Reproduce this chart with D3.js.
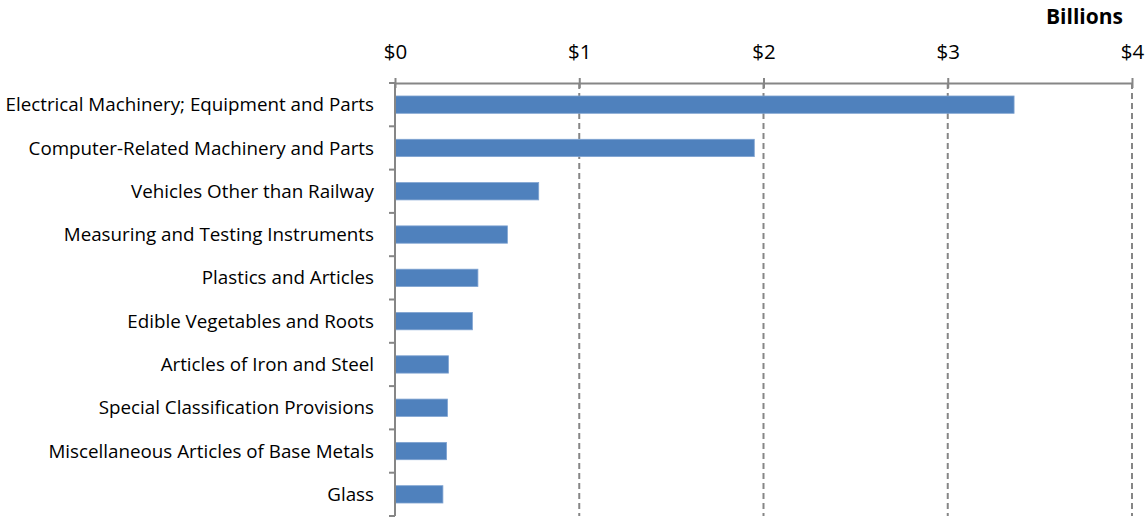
<!DOCTYPE html>
<html>
<head>
<meta charset="utf-8">
<script src="https://cdn.jsdelivr.net/npm/d3@7"></script>
<style>
  html, body { margin: 0; padding: 0; background: #fff; }
  svg { display: block; }
  text { font-family: "Open Sans", "Noto Sans", sans-serif; fill: #000; }
</style>
</head>
<body>
<svg id="chart" width="1147" height="519"></svg>
<script>
// Top export categories (values in billions of US dollars)
const categories = [
  "Electrical Machinery; Equipment and Parts",
  "Computer-Related Machinery and Parts",
  "Vehicles Other than Railway",
  "Measuring and Testing Instruments",
  "Plastics and Articles",
  "Edible Vegetables and Roots",
  "Articles of Iron and Steel",
  "Special Classification Provisions",
  "Miscellaneous Articles of Base Metals",
  "Glass"
];
const values = [3.36, 1.95, 0.78, 0.61, 0.45, 0.42, 0.29, 0.285, 0.28, 0.26];
const tickValues = [0, 1, 2, 3, 4];
const tickLabels = ["$0", "$1", "$2", "$3", "$4"];
const unitLabel = "Billions";

const svg = d3.select("#chart");
const plotLeft = 395, plotRight = 1132, plotTop = 83, plotBottom = 516;
const axisColor = "#868686";
const fontFamily = "'Open Sans', 'Noto Sans', sans-serif";

const x = d3.scaleLinear().domain([0, 4]).range([plotLeft, plotRight]);
const y = d3.scaleBand().domain(categories).range([plotTop, plotBottom]).paddingInner(0.6).paddingOuter(0.3);

// dashed vertical gridlines
svg.append("g")
  .selectAll("line")
  .data(tickValues.slice(1))
  .join("line")
  .attr("x1", d => x(d)).attr("x2", d => x(d))
  .attr("y1", plotTop).attr("y2", plotBottom)
  .attr("stroke", axisColor)
  .attr("stroke-width", 2)
  .attr("stroke-dasharray", "6,4");

// bars
svg.append("g")
  .selectAll("rect")
  .data(categories)
  .join("rect")
  .attr("x", x(0))
  .attr("y", d => y(d))
  .attr("width", (d, i) => x(values[i]) - x(0))
  .attr("height", y.bandwidth())
  .attr("fill", "#4F81BD")
  .attr("stroke", "#7FA3D1")
  .attr("stroke-width", 0.8);

// top value axis
const xAxis = d3.axisTop(x)
  .tickValues(tickValues)
  .tickFormat((d, i) => tickLabels[i])
  .tickSizeInner(5)
  .tickSizeOuter(0)
  .tickPadding(19);
const gx = svg.append("g").attr("transform", `translate(0,${plotTop})`).call(xAxis);
gx.select(".domain").attr("stroke", axisColor).attr("stroke-width", 2);
gx.selectAll(".tick line")
  .attr("stroke", axisColor).attr("stroke-width", 2)
  .attr("y1", 5).attr("y2", -5);
gx.selectAll(".tick text")
  .attr("font-size", 20.5)
  .attr("font-family", fontFamily)
  .attr("fill", "#000");

// left category axis: separators between bands
const yEdges = categories.map(c => y(c) - y.step() * y.paddingOuter()).concat([plotBottom]);
svg.append("line")
  .attr("x1", plotLeft).attr("x2", plotLeft)
  .attr("y1", plotTop).attr("y2", plotBottom)
  .attr("stroke", axisColor).attr("stroke-width", 2);
svg.append("g")
  .selectAll("line")
  .data(yEdges)
  .join("line")
  .attr("x1", plotLeft - 6).attr("x2", plotLeft)
  .attr("y1", d => d).attr("y2", d => d)
  .attr("stroke", axisColor).attr("stroke-width", 2);

// category labels
svg.append("g")
  .selectAll("text")
  .data(categories)
  .join("text")
  .attr("x", plotLeft - 21)
  .attr("y", d => y(d) + y.bandwidth() / 2)
  .attr("dy", "0.35em")
  .attr("text-anchor", "end")
  .attr("font-size", 18.8)
  .text(d => d);

// unit label
svg.append("text")
  .attr("x", 1123)
  .attr("y", 24)
  .attr("text-anchor", "end")
  .attr("font-size", 21)
  .attr("font-weight", "bold")
  .text(unitLabel);
</script>
</body>
</html>
